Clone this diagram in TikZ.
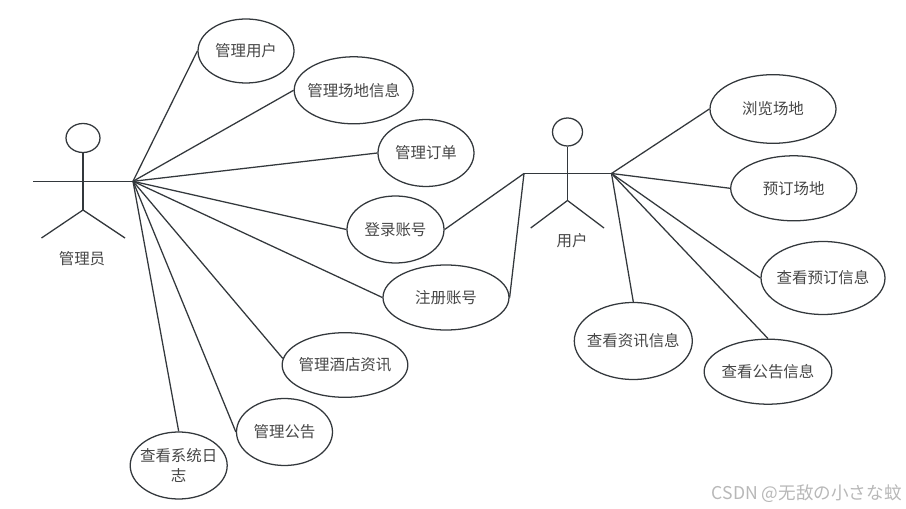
\documentclass[tikz,border=0pt]{standalone}
\usepackage{fontspec}
\setmainfont{Noto Sans CJK SC}
\usetikzlibrary{shapes.geometric}
\definecolor{ln}{HTML}{33383C}
\definecolor{tx}{HTML}{474747}
\tikzset{
  usecase/.style={draw=ln,line width=0.95pt,ellipse,fill=white,inner sep=0pt,font=\fontsize{11.6}{15.5}\selectfont,text=tx,align=center},
  lnk/.style={draw=ln,line width=0.95pt},
  lbl/.style={font=\fontsize{11.6}{14}\selectfont,text=tx,inner sep=0pt},
  x=0.75pt,y=-0.75pt
}
\newcommand{\zw}[1]{\makebox[0pt]{\raisebox{-0.75pt}{#1}}}
\newcommand{\uc}[6]{\node[usecase,minimum width=#4*0.75pt,minimum height=#5*0.75pt] (#1) at (#2,#3) {#6};}
\begin{document}
\begin{tikzpicture}
\useasboundingbox (0,0) rectangle (906,509);
\fill[white] (0,0) rectangle (906,509);
% admin actor
\node[ellipse,draw=ln,line width=0.95pt,minimum width=34*0.75pt,minimum height=29*0.75pt,inner sep=0pt] (ahead) at (83,138) {};
\coordinate (ahip) at (83,210);
\coordinate (aarmL) at (33,181.3);
\coordinate (aarmR) at (133,181.3);
\coordinate (alegL) at (41.5,238);
\coordinate (alegR) at (125,238);
\draw[lnk] (ahead.south) -- (ahip);
\draw[lnk] (aarmL) -- (aarmR);
\draw[lnk] (alegL) -- (ahip) -- (alegR);
\node[lbl] (alabel) at (82,258.7) {管理员};
% user actor
\node[ellipse,draw=ln,line width=0.95pt,minimum width=30*0.75pt,minimum height=28*0.75pt,inner sep=0pt] (uhead) at (567.5,132) {};
\coordinate (uhip) at (567.5,200.5);
\coordinate (uarmL) at (524,173.5);
\coordinate (uarmR) at (611.5,173.5);
\coordinate (ulegL) at (530.7,228);
\coordinate (ulegR) at (604,228);
\draw[lnk] (uhead.south) -- (uhip);
\draw[lnk] (uarmL) -- (uarmR);
\draw[lnk] (ulegL) -- (uhip) -- (ulegR);
\node[lbl] (ulabel) at (572,240.5) {用户};
% use cases
\uc{a1}{246}{51}{96}{64}{\zw{管理用户}}
\uc{a2}{353.7}{90.3}{119}{67}{\zw{管理场地信息}}
\uc{a3}{426}{153}{96}{67}{\zw{管理订单}}
\uc{c1}{395.5}{229.5}{97}{67}{\zw{登录账号}}
\uc{c2}{446}{297.5}{126}{65}{\zw{注册账号}}
\uc{a4}{345}{365}{125.7}{64.6}{\zw{管理酒店资讯}}
\uc{a5}{284.5}{432}{96}{67}{\zw{管理公告}}
\uc{a6}{178.7}{465.5}{97}{67}{\zw{查看系统日}\\\zw{志}}
\uc{u1}{773}{109}{126}{68.6}{\zw{浏览场地}}
\uc{u2}{793.7}{188.3}{126}{65}{\zw{预订场地}}
\uc{u3}{823}{278}{124}{73}{\zw{查看预订信息}}
\uc{u4}{768}{371.7}{127.7}{65}{\zw{查看公告信息}}
\uc{u5}{633.3}{341}{118}{77}{\zw{查看资讯信息}}
% links
\draw[lnk] (aarmR) -- (a1.west);
\draw[lnk] (aarmR) -- (a2.west);
\draw[lnk] (aarmR) -- (a3.west);
\draw[lnk] (aarmR) -- (c1.west);
\draw[lnk] (aarmR) -- (c2.west);
\draw[lnk] (aarmR) -- (a4.174);
\draw[lnk] (aarmR) -- (a5.west);
\draw[lnk] (aarmR) -- (a6.north);
\draw[lnk] (c1.east) -- (uarmL);
\draw[lnk] (c2.east) -- (uarmL);
\draw[lnk] (uarmR) -- (u1.west);
\draw[lnk] (uarmR) -- (u2.west);
\draw[lnk] (uarmR) -- (u3.west);
\draw[lnk] (uarmR) -- (u4.north);
\draw[lnk] (uarmR) -- (u5.north);
\node[font=\fontsize{13.2}{15}\selectfont,text=black!28,inner sep=0pt,anchor=east] (wm) at (902,494) {CSDN @无敌の小さな蚊};
\end{tikzpicture}
\end{document}
